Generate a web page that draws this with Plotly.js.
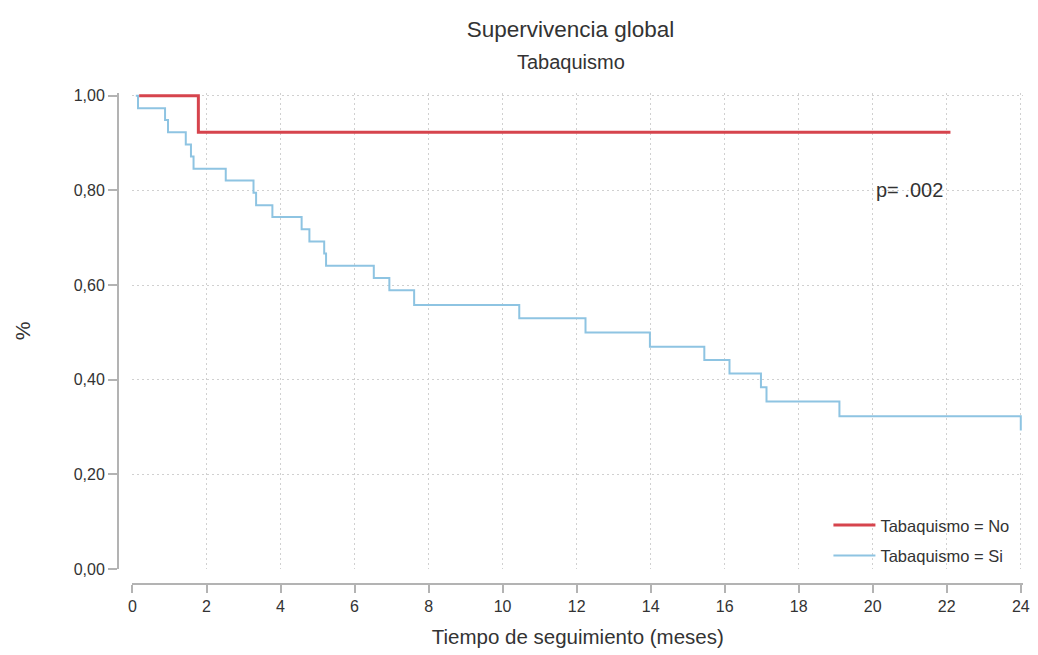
<!DOCTYPE html>
<html>
<head>
<meta charset="utf-8">
<script src="https://cdn.plot.ly/plotly-3.0.1.min.js"></script>
<style>html,body{margin:0;padding:0;background:#fff;}#chart{width:1038px;height:655px;}</style>
</head>
<body>
<div id="chart"></div>
<script>
// Kaplan-Meier step points (time in months, survival proportion)
const timeNo = [0.18, 1.78, 22.1];
const survNo = [1.0, 0.923, 0.923];

const timeSi = [0.09, 0.15, 0.88, 0.96, 1.44, 1.58, 1.65, 2.52, 3.27, 3.34, 3.78, 4.57, 4.78, 5.18, 5.23, 6.52, 6.94, 7.61, 10.45, 12.24, 13.98, 15.45, 16.13, 16.98, 17.13, 19.1, 24.0, 24.0];
const survSi = [1.0, 0.974, 0.949, 0.923, 0.897, 0.872, 0.846, 0.821, 0.795, 0.769, 0.744, 0.718, 0.692, 0.667, 0.641, 0.615, 0.589, 0.558, 0.530, 0.500, 0.470, 0.442, 0.413, 0.384, 0.354, 0.323, 0.323, 0.293];

const xTicks = [0, 2, 4, 6, 8, 10, 12, 14, 16, 18, 20, 22, 24];
const yTicks = [0, 0.2, 0.4, 0.6, 0.8, 1.0];

const FONT = '"Liberation Sans", Arial, sans-serif';
const TXT = '#333333';
const AXC = '#b3b3b3';

const traces = [
  {x: timeNo, y: survNo, type: 'scatter', mode: 'lines', line: {shape: 'hv', color: '#d6444d', width: 3},
   name: 'Tabaquismo = No', legendgroup: 'a', hoverinfo: 'skip'},
  {x: timeSi, y: survSi, type: 'scatter', mode: 'lines', line: {shape: 'hv', color: '#8ec4e2', width: 2},
   name: 'Tabaquismo = Si', legendgroup: 'b', hoverinfo: 'skip'}
];

const layout = {
  width: 1038, height: 655,
  paper_bgcolor: '#ffffff', plot_bgcolor: '#ffffff',
  margin: {l: 118, r: 15, t: 93, b: 71},
  font: {family: FONT, color: TXT, size: 16},
  showlegend: true,
  legend: {x: 0.785, y: 0.155, xanchor: 'left', yanchor: 'top', font: {size: 16.5, color: TXT, family: FONT},
           traceorder: 'grouped', tracegroupgap: 6, bgcolor: 'rgba(0,0,0,0)', itemwidth: 42},
  xaxis: {
    domain: [0.016, 1], range: [0, 24.06], anchor: 'free', position: 0,
    tickvals: xTicks, ticktext: xTicks.map(String),
    showline: true, linecolor: AXC, linewidth: 2,
    ticks: 'outside', ticklen: 8, tickwidth: 2, tickcolor: AXC,
    showgrid: true, gridcolor: '#d0d0d0', griddash: '2px,3px', gridwidth: 1,
    zeroline: false, tickfont: {size: 16, color: TXT},
    title: {text: 'Tiempo de seguimiento (meses)', font: {size: 20.5, color: TXT}, standoff: 14}
  },
  yaxis: {
    domain: [0.0305, 1], range: [0, 1.006], anchor: 'free', position: 0,
    tickvals: yTicks, tickformat: '.2f',
    showline: true, linecolor: AXC, linewidth: 2,
    ticks: 'outside', ticklen: 9, tickwidth: 2, tickcolor: AXC,
    showgrid: true, gridcolor: '#d0d0d0', griddash: '2px,3px', gridwidth: 1,
    zeroline: false, tickfont: {size: 16, color: TXT},
    title: {text: '%', font: {size: 21, color: TXT}, standoff: 36}
  },
  separators: ',.',
  title: {text: 'Supervivencia global', font: {size: 22.5, color: TXT, family: FONT}, x: 0.5, xref: 'paper', y: 0.955, yanchor: 'middle'},
  annotations: [
    {text: 'Tabaquismo', xref: 'paper', yref: 'paper', x: 0.5, y: 1.063, yanchor: 'middle', showarrow: false,
     font: {size: 20, color: TXT, family: FONT}},
    {text: 'p= .002', xref: 'x', yref: 'y', x: 21.0, y: 0.80, showarrow: false,
     font: {size: 20, color: TXT, family: FONT}}
  ]
};

Plotly.newPlot('chart', traces, layout, {staticPlot: true, displayModeBar: false});
</script>
</body>
</html>
